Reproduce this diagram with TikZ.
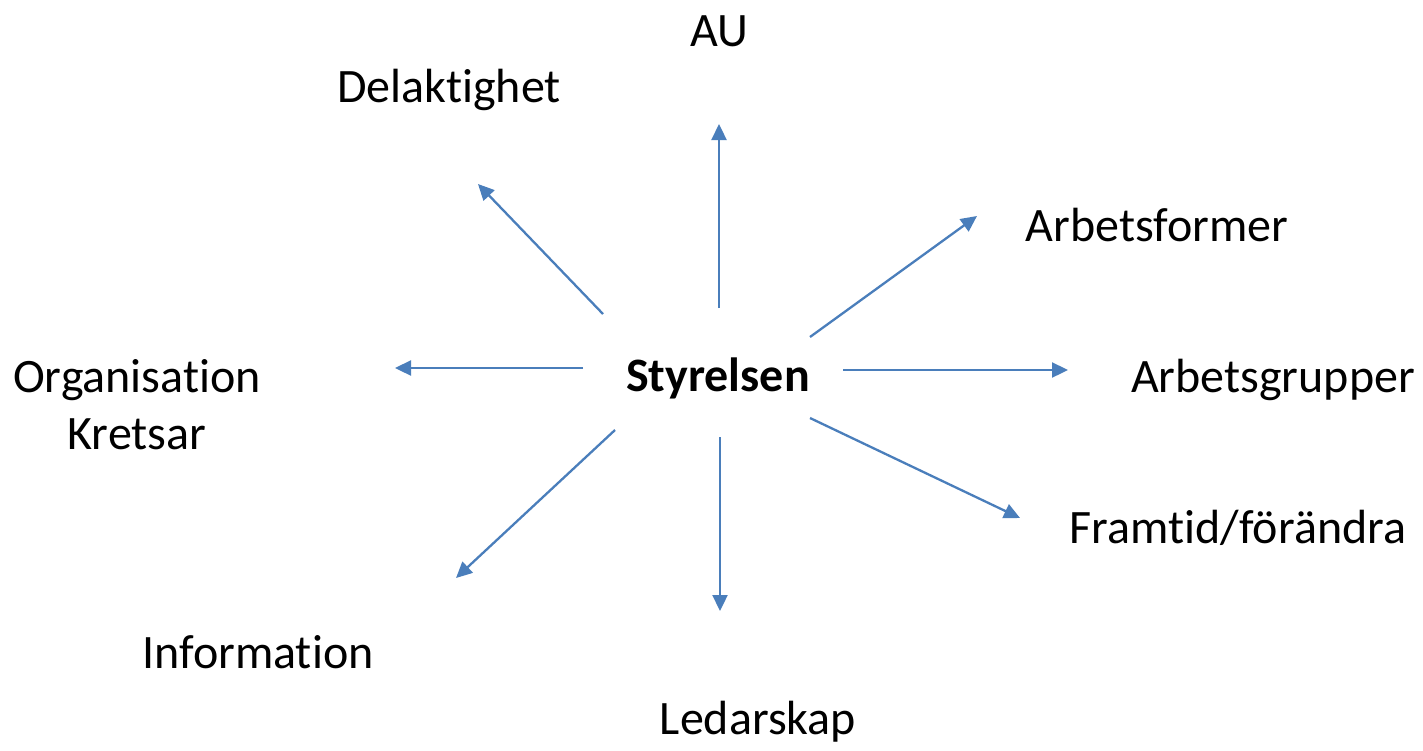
\documentclass[tikz,border=0pt]{standalone}
\usepackage{fontspec}
\setmainfont{Carlito}[Ligatures=NoCommon]
\usetikzlibrary{arrows.meta}
\definecolor{arr}{HTML}{4A7EBB}
\begin{document}
\begin{tikzpicture}[x=0.5pt,y=-0.5pt,
  lbl/.style={font=\fontsize{24pt}{28.5pt}\selectfont,inner sep=0pt,align=center},
  conn/.style={draw=arr,line width=1.15pt,-{Triangle[length=8pt,width=7.5pt]}}]
\useasboundingbox (0,0) rectangle (1423,750);
\node[lbl,font=\fontsize{24pt}{28.5pt}\selectfont\bfseries] (c) at (718,378) {Styrelsen};
\node[lbl] (au) at (719,31) {AU};
\node[lbl] (del) at (449,90) {Delaktighet};
\node[lbl] (af) at (1157,225) {Arbetsformer};
\node[lbl] (ag) at (1273,380) {Arbetsgrupper};
\node[lbl] (org) at (137,405) {Organisation\\Kretsar};
\node[lbl] (fr) at (1238,528) {Framtid/förändra};
\node[lbl] (inf) at (258,652) {Information};
\node[lbl] (led) at (758,722) {Ledarskap};
\coordinate (s1) at (719,308); \coordinate (e1) at (719,124);
\coordinate (s2) at (603,314); \coordinate (e2) at (478,184);
\coordinate (s3) at (810,337); \coordinate (e3) at (977,216);
\coordinate (s4) at (843,370); \coordinate (e4) at (1068,370);
\coordinate (s5) at (583,368); \coordinate (e5) at (395,368);
\coordinate (s6) at (615,430); \coordinate (e6) at (456,578);
\coordinate (s7) at (720,437); \coordinate (e7) at (720,611);
\coordinate (s8) at (810,418); \coordinate (e8) at (1020,518);
\foreach \i in {1,...,8}{\draw[conn] (s\i) -- (e\i);}
\end{tikzpicture}
\end{document}
